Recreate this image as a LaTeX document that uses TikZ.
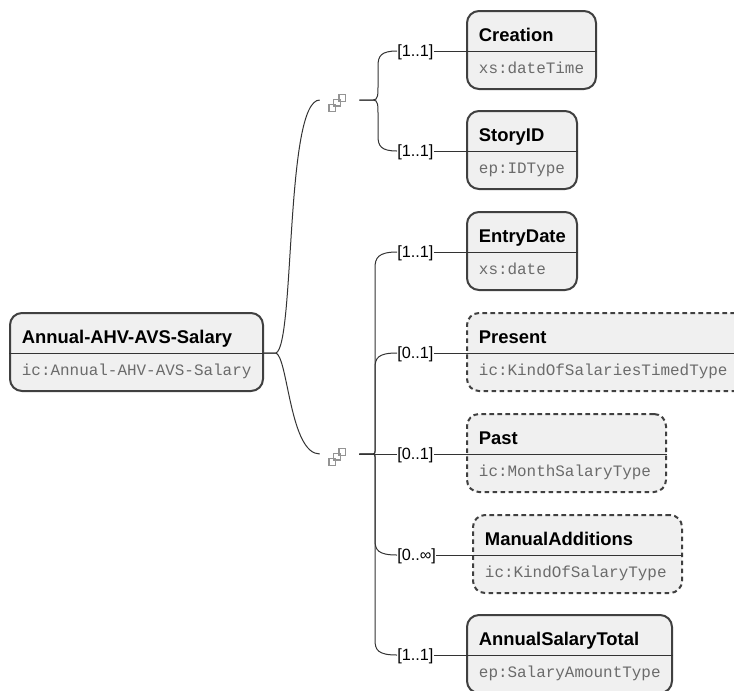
\documentclass[tikz,border=0pt]{standalone}
\usepackage{fontspec}
\setmainfont{Liberation Sans}
\setmonofont{Liberation Mono}
\usepackage{tikz}
\begin{document}
\begin{tikzpicture}[x=0.75pt, y=-0.75pt]
	\tikzstyle{typebox} = [draw=black!75, line width=1.5pt, fill=black!6, rounded corners=9pt, inner sep=0pt]
	\tikzstyle{optbox} = [typebox, dash pattern=on 3.5pt off 2.5pt]
	\tikzstyle{title} = [anchor=base west, inner sep=0pt, font=\fontsize{13.8}{16}\selectfont\bfseries]
	\tikzstyle{kind} = [anchor=base west, inner sep=0pt, text=black!58, font=\fontsize{11.95}{14}\selectfont\ttfamily]
	\tikzstyle{card} = [anchor=west, inner sep=0pt, text height=10.1pt, text depth=2.6pt, font=\fontsize{12.2}{14}\selectfont]
	\tikzstyle{wire} = [draw=black!80, line width=0.75pt]
	\tikzstyle{choice} = [minimum width=29.25pt, minimum height=15pt, inner sep=0pt]
	\tikzstyle{cell} = [draw=black!42, line width=1.2pt, minimum size=5pt, inner sep=0pt]
	\useasboundingbox (0,0) rectangle (734,690);
	\clip (0,0) rectangle (734,690);

	\foreach \n/\x/\w/\y/\st/\t/\k in {
		root/136.5/253/352/typebox/Annual-AHV-AVS-Salary/ic:Annual-AHV-AVS-Salary,
		creation/531.5/129/50/typebox/Creation/xs:dateTime,
		story/522/110/150/typebox/StoryID/ep:IDType,
		entry/522/110/251/typebox/EntryDate/xs:date,
		present/607/280/352/optbox/Present/ic:KindOfSalariesTimedType,
		past/566.5/199/453/optbox/Past/ic:MonthSalaryType,
		manual/577.5/209/554/optbox/ManualAdditions/ic:KindOfSalaryType,
		total/569.5/205/654/typebox/AnnualSalaryTotal/ep:SalaryAmountType} {
		\node[\st, minimum width=\w*0.75pt, minimum height=58.5pt] (\n) at (\x,\y) {};
		\coordinate (\n-l) at ([yshift=-0.75pt]\n.west);
		\coordinate (\n-r) at ([yshift=-0.75pt]\n.east);
		\draw[wire] (\n-l) -- (\n-r);
		\node[title] (\n-t) at ([xshift=9.5pt, yshift=6.75pt]\n.west) {\t};
		\node[kind] (\n-k) at ([xshift=9.5pt, yshift=-17.4pt]\n.west) {\k};
	}

	\node[choice] (seqa) at (339.5,100) {};
	\node[choice] (seqb) at (339.5,454) {};
	\foreach \s in {seqa,seqb} {
		\node[cell] (\s-3) at ([xshift=1.9pt, yshift=1.5pt]\s.center) {};
		\node[cell] (\s-2) at ([xshift=-1.9pt, yshift=-2.2pt]\s.center) {};
		\node[cell] (\s-1) at ([xshift=-5.6pt, yshift=-6pt]\s.center) {};
	}

	\foreach \n/\y/\c in {creation/51/[1..1], story/151/[1..1], entry/252/[1..1], present/353/[0..1], past/454/[0..1], manual/555/[0..∞], total/655/[1..1]} {
		\node[card] (\n-c) at (397,\y) {\c};
		\draw[wire] (\n-c.east) -- (\n-l);
	}

	\draw[wire] (root-r) -- ++(12,0) .. controls (295,345) and (285,100) .. (seqa.west);
	\draw[wire] (root-r) -- ++(12,0) .. controls (288,358) and (290,454) .. (seqb.west);

	\draw[wire] (seqa.east) -- ++(14,0) .. controls (378,100) and (378,95) .. (378,85) -- (378,66) .. controls (378,56) and (381,51) .. (creation-c.west);
	\draw[wire] (seqa.east) -- ++(14,0) .. controls (378,100) and (378,105) .. (378,115) -- (378,136) .. controls (378,146) and (381,151) .. (story-c.west);

	\draw[wire] (seqb.east) -- ++(14,0) .. controls (376,454) and (375,449) .. (375,441) -- (375,268) .. controls (375,258) and (378,252) .. (entry-c.west);
	\draw[wire] (seqb.east) -- ++(14,0) .. controls (376,454) and (375,449) .. (375,441) -- (375,368) .. controls (375,358) and (378,353) .. (present-c.west);
	\draw[wire] (seqb.east) -- (past-c.west);
	\draw[wire] (seqb.east) -- ++(14,0) .. controls (376,454) and (375,459) .. (375,467) -- (375,540) .. controls (375,550) and (378,555) .. (manual-c.west);
	\draw[wire] (seqb.east) -- ++(14,0) .. controls (376,454) and (375,459) .. (375,467) -- (375,640) .. controls (375,650) and (378,655) .. (total-c.west);
\end{tikzpicture}
\end{document}
